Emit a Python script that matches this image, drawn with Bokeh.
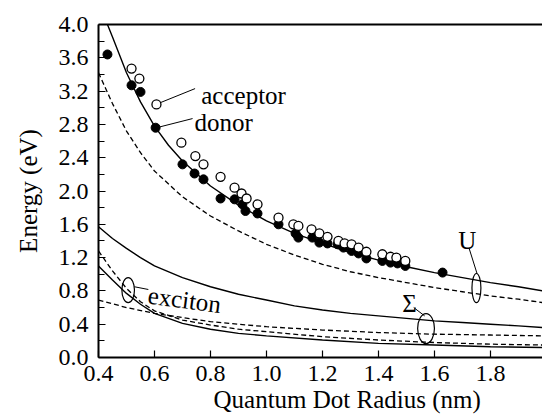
from bokeh.plotting import figure
from bokeh.models import LinearAxis, FixedTicker, PrintfTickFormatter, Range1d, Title
from bokeh.core.properties import value
from bokeh.embed import file_html
from bokeh.resources import INLINE

FONT = "Liberation Serif"

# ---- data ----
donor_x = [0.432, 0.518, 0.550, 0.604, 0.700, 0.743, 0.775, 0.836, 0.886, 0.914, 0.925, 0.968,
           1.043, 1.104, 1.114, 1.164, 1.189, 1.218, 1.254, 1.275, 1.304, 1.329, 1.357, 1.414,
           1.443, 1.468, 1.496, 1.629]
donor_y = [3.64, 3.27, 3.19, 2.76, 2.32, 2.21, 2.14, 1.91, 1.90, 1.84, 1.76, 1.73,
           1.60, 1.49, 1.44, 1.44, 1.38, 1.37, 1.36, 1.32, 1.28, 1.25, 1.19, 1.16,
           1.14, 1.13, 1.10, 1.02]

acceptor_x = [0.518, 0.546, 0.607, 0.696, 0.746, 0.775, 0.836, 0.886, 0.911, 0.929, 0.968,
              1.043, 1.096, 1.114, 1.161, 1.189, 1.218, 1.257, 1.279, 1.304, 1.329, 1.357,
              1.414, 1.443, 1.464, 1.496]
acceptor_y = [3.47, 3.35, 3.04, 2.58, 2.42, 2.32, 2.17, 2.04, 1.97, 1.91, 1.84,
              1.68, 1.60, 1.58, 1.54, 1.49, 1.45, 1.40, 1.37, 1.36, 1.32, 1.27,
              1.24, 1.21, 1.20, 1.16]

u_solid_x = [0.432, 0.45, 0.5, 0.55, 0.6, 0.65, 0.7, 0.8, 0.9, 1.0, 1.1, 1.2, 1.3, 1.4, 1.5,
             1.6, 1.7, 1.8, 1.9, 1.986]
u_solid_y = [4.0, 3.85, 3.42, 3.07, 2.78, 2.55, 2.36, 2.06, 1.83, 1.64, 1.49, 1.37, 1.26, 1.17,
             1.09, 1.02, 0.96, 0.90, 0.85, 0.80]

u_dash_x = [0.4, 0.45, 0.5, 0.55, 0.6, 0.7, 0.8, 0.9, 1.0, 1.1, 1.2, 1.3, 1.4, 1.5, 1.6, 1.7,
            1.8, 1.9, 1.986]
u_dash_y = [3.42, 3.05, 2.72, 2.46, 2.24, 1.93, 1.70, 1.52, 1.36, 1.23, 1.12, 1.03, 0.96, 0.90,
            0.84, 0.79, 0.74, 0.70, 0.66]

s_solid_x = [0.4, 0.45, 0.5, 0.55, 0.6, 0.7, 0.8, 0.9, 1.0, 1.1, 1.2, 1.3, 1.4, 1.5, 1.6, 1.7,
             1.8, 1.9, 1.986]
s_solid_y = [1.57, 1.43, 1.31, 1.20, 1.10, 0.96, 0.85, 0.76, 0.69, 0.62, 0.57, 0.53, 0.50, 0.47,
             0.44, 0.42, 0.40, 0.38, 0.36]

s_dash_x = [0.4, 0.5, 0.6, 0.7, 0.8, 0.9, 1.0, 1.2, 1.4, 1.6, 1.8, 1.986]
s_dash_y = [0.69, 0.60, 0.53, 0.48, 0.43, 0.40, 0.37, 0.33, 0.30, 0.28, 0.27, 0.26]

ex_dash_x = [0.4, 0.45, 0.5, 0.55, 0.6, 0.7, 0.8, 0.9, 1.0, 1.2, 1.4, 1.6, 1.8, 1.986]
ex_dash_y = [1.28, 1.04, 0.83, 0.67, 0.56, 0.45, 0.39, 0.34, 0.31, 0.25, 0.21, 0.18, 0.16, 0.15]

ex_solid_x = [0.4, 0.45, 0.5, 0.55, 0.6, 0.7, 0.8, 0.9, 1.0, 1.2, 1.4, 1.6, 1.8, 1.986]
ex_solid_y = [1.10, 0.93, 0.77, 0.64, 0.53, 0.41, 0.34, 0.29, 0.26, 0.21, 0.17, 0.15, 0.13, 0.12]

x_ticks = [0.4, 0.6, 0.8, 1.0, 1.2, 1.4, 1.6, 1.8]
y_ticks = [0.0, 0.4, 0.8, 1.2, 1.6, 2.0, 2.4, 2.8, 3.2, 3.6, 4.0]
y_minor = [0.2, 0.6, 1.0, 1.4, 1.8, 2.2, 2.6, 3.0, 3.4, 3.8]

# annotation positions (data units)
ann_text = ["acceptor", "donor", "U", "\u03a3"]
ann_x = [0.767, 0.743, 1.717, 1.511]
ann_y = [3.145, 2.82, 1.40, 0.645]
ann_align = ["left", "left", "center", "center"]

lead_x0 = [0.62, 0.619, 0.528, 1.526, 1.724]
lead_y0 = [3.06, 2.77, 0.85, 0.60, 1.31]
lead_x1 = [0.745, 0.736, 0.578, 1.565, 1.752]
lead_y1 = [3.23, 2.87, 0.817, 0.50, 1.01]

ell_x = [0.506, 1.570, 1.750]
ell_y = [0.81, 0.348, 0.834]
ell_w = [0.045, 0.060, 0.032]
ell_h = [0.30, 0.36, 0.35]

# ---- figure ----
p = figure(width=542, height=419, x_range=Range1d(0.4, 1.986), y_range=Range1d(0.0, 4.0),
           output_backend="svg", toolbar_location=None,
           min_border_left=98, min_border_right=0, min_border_top=24, min_border_bottom=62)
p.outline_line_color = None
p.xgrid.visible = False
p.ygrid.visible = False
p.background_fill_color = "white"

xa = p.xaxis[0]
xa.ticker = FixedTicker(ticks=x_ticks)
xa.formatter = PrintfTickFormatter(format="%.1f")
xa.axis_line_width = 2
xa.major_tick_in = 7
xa.major_tick_out = 0
xa.major_tick_line_width = 1.2
xa.minor_tick_line_color = None
xa.major_label_standoff = 8
xa.major_label_text_font = FONT
xa.major_label_text_font_size = "24px"
xa.major_label_text_color = "black"

ya = p.yaxis[0]
ya.ticker = FixedTicker(ticks=y_ticks, minor_ticks=y_minor)
ya.formatter = PrintfTickFormatter(format="%.1f")
ya.axis_line_width = 2
ya.major_tick_in = 7
ya.major_tick_out = 0
ya.minor_tick_in = 6
ya.minor_tick_out = 0
ya.major_tick_line_width = 1.2
ya.minor_tick_line_width = 1.2
ya.major_label_standoff = 10
ya.major_label_text_font = FONT
ya.major_label_text_font_size = "24px"
ya.major_label_text_color = "black"
ya.axis_label = "Energy (eV)"
ya.axis_label_text_font = FONT
ya.axis_label_text_font_style = "normal"
ya.axis_label_text_font_size = "25px"
ya.axis_label_text_color = "black"
ya.axis_label_standoff = 14

top = LinearAxis(ticker=FixedTicker(ticks=[]), axis_line_width=2,
                 major_label_text_font_size="0px", major_tick_line_color=None,
                 minor_tick_line_color=None)
p.add_layout(top, "above")

xtitle = Title(text="Quantum Dot Radius (nm)", align="left", offset=115, standoff=0,
               text_font=FONT, text_font_size="25px", text_font_style="normal",
               text_color="black")
p.add_layout(xtitle, "below")

# curves
p.line(u_solid_x, u_solid_y, line_color="black", line_width=1.4)
p.line(u_dash_x, u_dash_y, line_color="black", line_width=1.3, line_dash="5 3")
p.line(s_solid_x, s_solid_y, line_color="black", line_width=1.4)
p.line(s_dash_x, s_dash_y, line_color="black", line_width=1.3, line_dash="5 3")
p.line(ex_dash_x, ex_dash_y, line_color="black", line_width=1.3, line_dash="5 3")
p.line(ex_solid_x, ex_solid_y, line_color="black", line_width=1.4)

# data points
p.scatter(donor_x, donor_y, marker="circle", size=9, fill_color="black", line_color="black")
p.scatter(acceptor_x, acceptor_y, marker="circle", size=9, fill_color="white",
          line_color="black", line_width=1.3)

# annotations
p.segment(lead_x0, lead_y0, lead_x1, lead_y1, line_color="black", line_width=1)
p.ellipse(ell_x, ell_y, width=ell_w, height=ell_h, fill_color=None, line_color="black",
          line_width=1.2)
p.text(ann_x, ann_y, text=ann_text, text_align=ann_align, text_baseline="alphabetic",
       text_font=value(FONT), text_font_size="25px", text_color="black")
p.text([0.577], [0.75], text=["exciton"], angle=-0.13, text_align="left",
       text_baseline="alphabetic", text_font=value(FONT), text_font_size="25px",
       text_color="black")

open("out.html", "w").write(file_html(p, INLINE))
